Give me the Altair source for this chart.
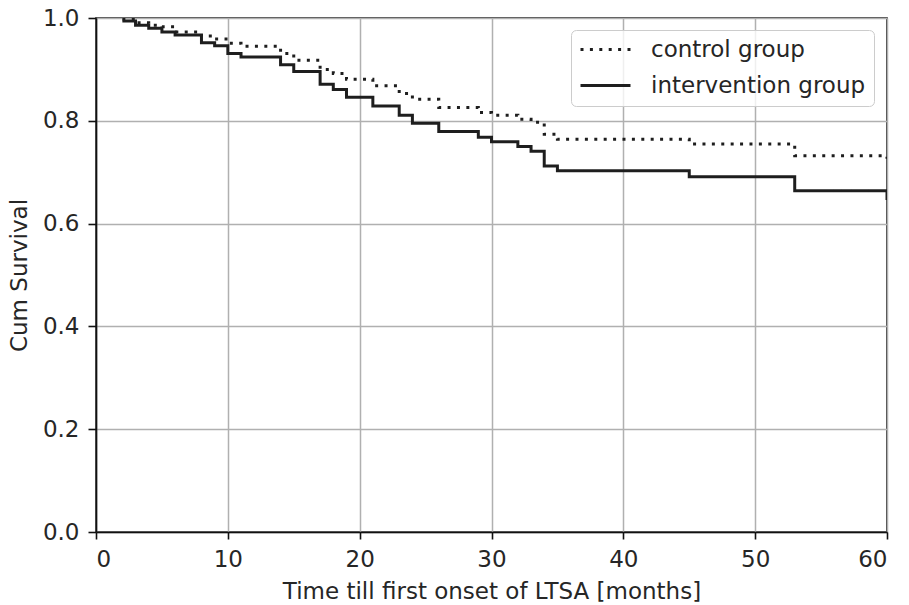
import altair as alt
import pandas as pd

months = [2, 3, 4, 5, 6, 8, 9, 10, 11, 14, 15, 17, 18, 19, 21, 23, 24, 26, 29, 30, 32, 33, 34, 35, 45, 53, 60]
control = [0.998, 0.991, 0.986, 0.983, 0.973, 0.965, 0.959, 0.951, 0.945, 0.931, 0.918, 0.900, 0.892, 0.881, 0.868,
           0.853, 0.842, 0.826, 0.816, 0.811, 0.803, 0.797, 0.774, 0.764, 0.755, 0.732, 0.726]
intervention = [0.994, 0.986, 0.980, 0.973, 0.967, 0.952, 0.946, 0.931, 0.924, 0.909, 0.896, 0.871, 0.861, 0.846,
                0.829, 0.811, 0.795, 0.779, 0.768, 0.759, 0.750, 0.741, 0.712, 0.703, 0.691, 0.664, 0.646]
groups = ["control group", "intervention group"]
x_ticks = [0, 10, 20, 30, 40, 50, 60]
y_ticks = [0.0, 0.2, 0.4, 0.6, 0.8, 1.0]

rows = []
for g, vals in zip(groups, [control, intervention]):
    for m, v in zip(months, vals):
        rows.append({"month": m, "surv": v, "group": g})
df = pd.DataFrame(rows)

FONT = "DejaVu Sans"
TXT = "#262626"
INK = "#1e1e1e"
FS = 23

chart = alt.Chart(df).mark_line(interpolate="step-after", strokeWidth=3, clip=True).encode(
    x=alt.X("month:Q", scale=alt.Scale(domain=[0, 60], nice=False),
            axis=alt.Axis(values=x_ticks, title="Time till first onset of LTSA [months]", format="d",
                          tickSize=7, labelPadding=9, titlePadding=9)),
    y=alt.Y("surv:Q", scale=alt.Scale(domain=[0, 1], nice=False),
            axis=alt.Axis(values=y_ticks, title="Cum Survival", format=".1f",
                          tickSize=8, labelPadding=9, titlePadding=11)),
    color=alt.Color("group:N", scale=alt.Scale(domain=groups, range=[INK, INK]),
                    legend=alt.Legend(title=None)),
    strokeDash=alt.StrokeDash("group:N", scale=alt.Scale(domain=groups, range=[[3, 6.4], [1, 0]]),
                              legend=alt.Legend(title=None)),
).properties(
    width=791, height=514,
    autosize=alt.AutoSizeParams(type="none"),
    padding={"left": 88, "top": 10, "right": 10, "bottom": 75},
).configure_view(
    stroke="#111", strokeWidth=1.6
).configure_axis(
    labelFont=FONT, titleFont=FONT, labelFontSize=FS, titleFontSize=FS,
    labelColor=TXT, titleColor=TXT, titleFontWeight="normal",
    grid=True, gridColor="#b0b0b0", gridWidth=1.5,
    domainColor="#111", domainWidth=1.6,
    tickColor="#111", tickWidth=1.6,
).configure_legend(
    orient="none", legendX=475, legendY=12,
    labelFont=FONT, labelFontSize=FS, labelColor=TXT, labelLimit=0,
    symbolType="M-1,0H4", symbolSize=400, symbolStrokeWidth=3,
    labelOffset=49, rowPadding=12,
    fillColor="rgba(255,255,255,0.8)", strokeColor="#cccccc", cornerRadius=5,
    padding=8,
)

chart.save("out.html", embed_options={"renderer": "svg", "actions": False})
